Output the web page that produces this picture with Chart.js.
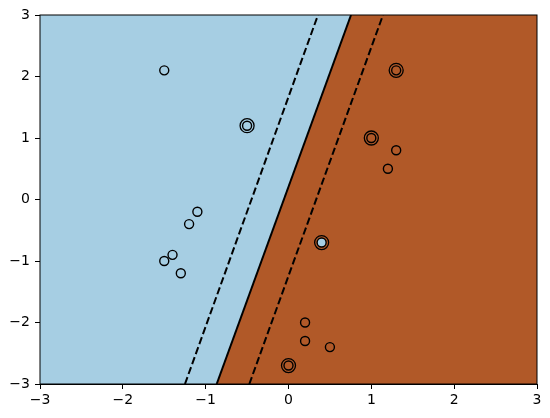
<html>
<head>
    <script src="https://cdn.jsdelivr.net/npm/chart.js"></script>
    <style>
        body { margin: 0; background: white; }
        canvas { display: block; }
    </style>
</head>
<body>
    <canvas id="chart" width="550" height="418"></canvas>
    <script>
        // two classes of training points
        const class0X = [0.4, -1.5, -1.4, -1.3, -1.1, -1.2, -0.5, -1.5];
        const class0Y = [-0.7, -1.0, -0.9, -1.2, -0.2, -0.4, 1.2, 2.1];
        const class1X = [1.0, 1.3, 1.2, 0.2, 0.5, 0.2, 0.0, 1.3];
        const class1Y = [1.0, 0.8, 0.5, -2.0, -2.4, -2.3, -2.7, 2.1];

        // support vectors
        const svX = [-0.5, 0.4, 1.0, 1.3, 0.0];
        const svY = [1.2, -0.7, 1.0, 2.1, -2.7];

        // decision boundary and margins, x at y = -3 and y = 3
        const lineY = [-3, 3];
        const boundaryX = [-0.867, 0.755];
        const marginLowX = [-1.25, 0.356];
        const marginHighX = [-0.473, 1.141];

        const ticks = [-3, -2, -1, 0, 1, 2, 3];

        const toPts = (xs, ys) => xs.map((x, i) => ({ x: x, y: ys[i] }));

        const blue = '#a6cee3';
        const brown = '#b15928';

        const frame = {
            id: 'frame',
            afterDraw(chart) {
                const { ctx, chartArea: a } = chart;
                ctx.save();
                ctx.strokeStyle = 'black';
                ctx.lineWidth = 1;
                ctx.strokeRect(a.left, a.top, a.right - a.left, a.bottom - a.top);
                ctx.restore();
            }
        };

        const fmt = v => String(v).replace('-', '\u2212');

        new Chart(document.getElementById('chart').getContext('2d'), {
            type: 'scatter',
            data: {
                datasets: [
                    {
                        data: toPts(svX, svY),
                        pointRadius: 7,
                        pointBackgroundColor: 'rgba(0,0,0,0)',
                        pointBorderColor: 'black',
                        pointBorderWidth: 1.3,
                        order: 1
                    },
                    {
                        data: toPts(class0X, class0Y),
                        pointRadius: 4.5,
                        pointBackgroundColor: blue,
                        pointBorderColor: 'black',
                        pointBorderWidth: 1.4,
                        order: 2
                    },
                    {
                        data: toPts(class1X, class1Y),
                        pointRadius: 4.5,
                        pointBackgroundColor: brown,
                        pointBorderColor: 'black',
                        pointBorderWidth: 1.4,
                        order: 3
                    },
                    {
                        data: toPts(marginLowX, lineY),
                        showLine: true,
                        pointRadius: 0,
                        borderColor: 'black',
                        borderWidth: 2,
                        borderDash: [7.4, 3.2],
                        order: 4
                    },
                    {
                        data: toPts(marginHighX, lineY),
                        showLine: true,
                        pointRadius: 0,
                        borderColor: 'black',
                        borderWidth: 2,
                        borderDash: [7.4, 3.2],
                        order: 5
                    },
                    {
                        data: toPts(boundaryX, lineY),
                        showLine: true,
                        pointRadius: 0,
                        borderColor: 'black',
                        borderWidth: 2,
                        order: 6
                    },
                    {
                        // brown region right of the boundary
                        data: toPts(boundaryX.concat([3]), lineY.concat([3])),
                        showLine: true,
                        pointRadius: 0,
                        borderWidth: 0,
                        borderColor: brown,
                        backgroundColor: brown,
                        fill: 'start',
                        order: 7
                    },
                    {
                        // blue everywhere else
                        data: toPts([-3, 3], [3, 3]),
                        showLine: true,
                        pointRadius: 0,
                        borderWidth: 0,
                        borderColor: blue,
                        backgroundColor: blue,
                        fill: 'start',
                        order: 8
                    }
                ]
            },
            options: {
                responsive: false,
                animation: false,
                layout: { padding: { top: 15, right: 13, left: 0, bottom: 0 } },
                plugins: { legend: { display: false }, tooltip: { enabled: false } },
                scales: {
                    x: {
                        type: 'linear',
                        min: -3, max: 3,
                        afterBuildTicks: s => { s.ticks = ticks.map(v => ({ value: v })); },
                        afterFit: s => { s.height = 34; },
                        grid: { drawOnChartArea: false, tickLength: 5, color: 'black', tickWidth: 1 },
                        border: { color: 'black', width: 1 },
                        ticks: {
                            color: 'black', padding: 3, maxRotation: 0,
                            font: { family: 'DejaVu Sans', size: 14 },
                            callback: v => fmt(v)
                        }
                    },
                    y: {
                        type: 'linear',
                        min: -3, max: 3,
                        afterBuildTicks: s => { s.ticks = ticks.map(v => ({ value: v })); },
                        afterFit: s => { s.width = 40; },
                        grid: { drawOnChartArea: false, tickLength: 5, color: 'black', tickWidth: 1 },
                        border: { color: 'black', width: 1 },
                        ticks: {
                            color: 'black', padding: 5,
                            font: { family: 'DejaVu Sans', size: 14 },
                            callback: v => fmt(v)
                        }
                    }
                }
            },
            plugins: [frame]
        });
    </script>
</body>
</html>
